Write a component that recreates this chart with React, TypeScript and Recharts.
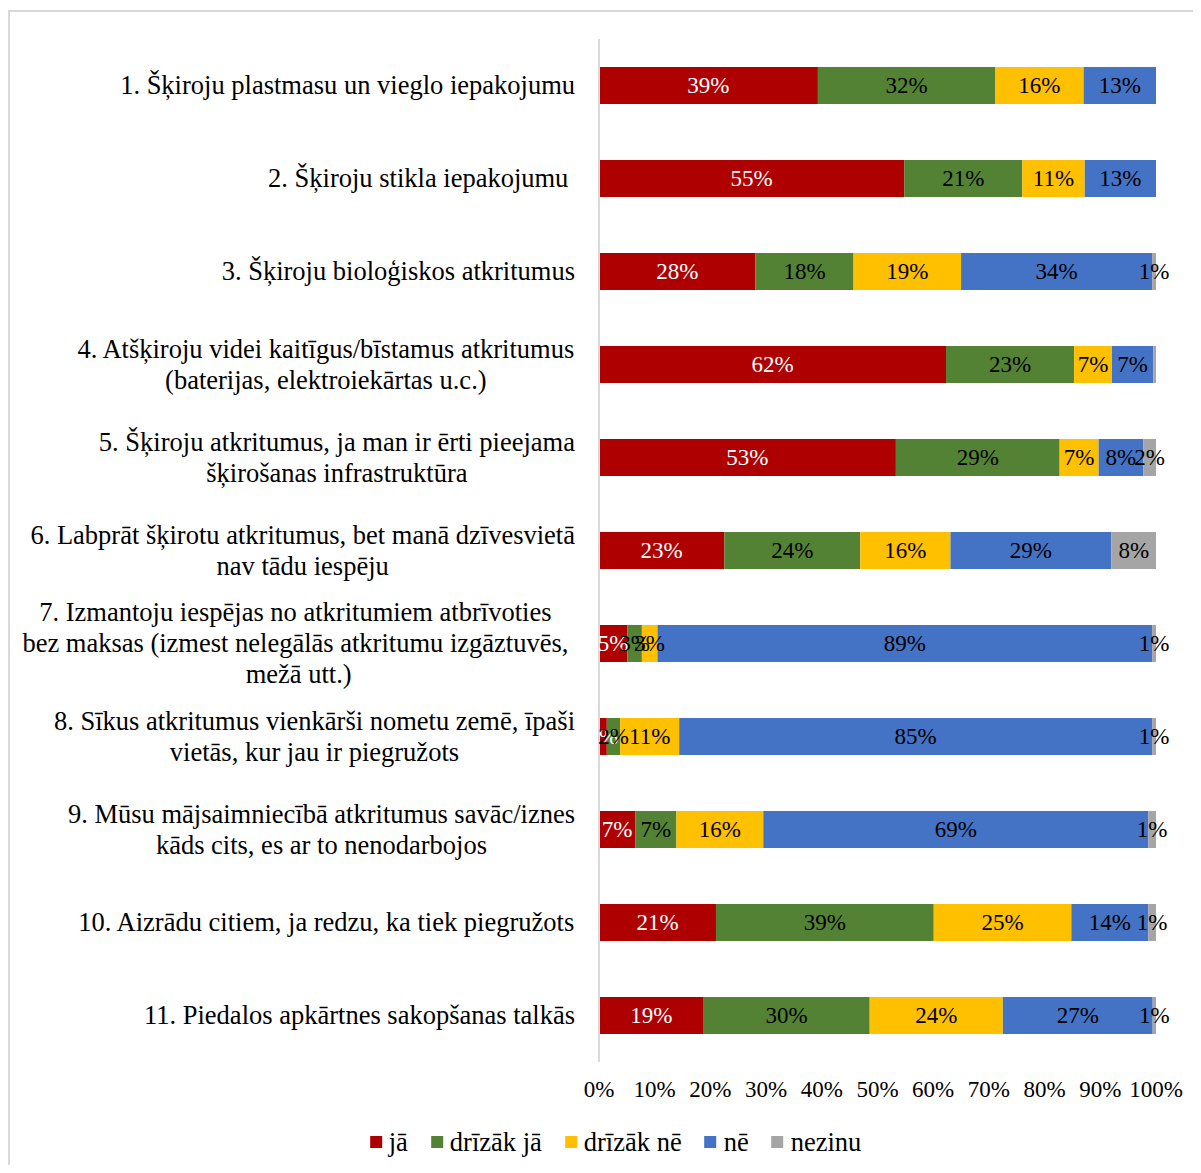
import React from 'react';
import { BarChart, Bar, XAxis, YAxis, LabelList } from 'recharts';

const categoryLines: string[][] = [
  ['1. Šķiroju plastmasu un vieglo iepakojumu'],
  ['2. Šķiroju stikla iepakojumu '],
  ['3. Šķiroju bioloģiskos atkritumus'],
  ['4. Atšķiroju videi kaitīgus/bīstamus atkritumus', '(baterijas, elektroiekārtas u.c.)'],
  ['5. Šķiroju atkritumus, ja man ir ērti pieejama', 'šķirošanas infrastruktūra'],
  ['6. Labprāt šķirotu atkritumus, bet manā dzīvesvietā', 'nav tādu iespēju'],
  ['7. Izmantoju iespējas no atkritumiem atbrīvoties ', 'bez maksas (izmest nelegālās atkritumu izgāztuvēs, ', 'mežā utt.)'],
  ['8. Sīkus atkritumus vienkārši nometu zemē, īpaši', 'vietās, kur jau ir piegružots'],
  ['9. Mūsu mājsaimniecībā atkritumus savāc/iznes', 'kāds cits, es ar to nenodarbojos'],
  ['10. Aizrādu citiem, ja redzu, ka tiek piegružots'],
  ['11. Piedalos apkārtnes sakopšanas talkās'],
];

const seriesNames = ['jā', 'drīzāk jā', 'drīzāk nē', 'nē', 'nezinu'];
const seriesColors = ['#AE0000', '#548235', '#FFC000', '#4472C4', '#A5A5A5'];
const labelColors = ['#FFFFFF', '#000000', '#000000', '#000000', '#000000'];

const ja = [39.3, 54.8, 28.1, 62.3, 53.3, 22.5, 5.1, 1.4, 6.5, 21.0, 18.8];
const drizakJa = [31.8, 21.2, 17.6, 23.0, 29.4, 24.4, 2.6, 2.4, 7.4, 39.1, 29.8];
const drizakNe = [15.9, 11.2, 19.3, 6.8, 7.0, 16.2, 2.8, 10.6, 15.6, 24.7, 23.9];
const ne = [13.0, 12.8, 34.3, 7.4, 8.0, 28.9, 88.8, 84.9, 69.1, 13.8, 26.9];
const nezinu = [0, 0, 0.7, 0.5, 2.3, 8.0, 0.7, 0.7, 1.4, 1.4, 0.6];

const xTicks = [0, 10, 20, 30, 40, 50, 60, 70, 80, 90, 100];

const seriesValues = [ja, drizakJa, drizakNe, ne, nezinu];
const seriesKeys = ['s0', 's1', 's2', 's3', 's4'];

const data = categoryLines.map((lines, i) => {
  const row: any = { name: lines.join(' ') };
  seriesKeys.forEach((k, s) => {
    row[k] = seriesValues[s][i];
  });
  return row;
});

const FONT = '"Liberation Serif", "Times New Roman", serif';
const FS_CAT = 26.5;
const FS_SMALL = 23;

let measureCtx: CanvasRenderingContext2D | null = null;
function measure(t: string): number {
  if (!measureCtx) {
    const c = document.createElement('canvas');
    measureCtx = c.getContext('2d');
  }
  if (!measureCtx) return t.length * FS_CAT * 0.45;
  measureCtx.font = `${FS_CAT}px "Liberation Serif"`;
  return measureCtx.measureText(t).width;
}

const LABEL_RIGHT = 567;
const LINE_H = 31;

const CategoryTick = (props: any) => {
  const { y, payload } = props;
  const lines = categoryLines[payload.index] || [String(payload.value)];
  const widths = lines.map(measure);
  const blockW = Math.max(...widths);
  const cx = LABEL_RIGHT - blockW / 2;
  const n = lines.length;
  return (
    <g>
      {lines.map((ln, i) => (
        <text
          key={i}
          x={cx}
          y={y + (i - (n - 1) / 2) * LINE_H + 8.8}
          textAnchor="middle"
          fontFamily={FONT}
          fontSize={FS_CAT}
          fill="#000"
          style={{ whiteSpace: 'pre' }}
        >
          {ln}
        </text>
      ))}
    </g>
  );
};

const XTick = (props: any) => {
  const { x, y, payload } = props;
  return (
    <text x={x} y={y + 35} textAnchor="middle" fontFamily={FONT} fontSize={FS_SMALL} fill="#000">
      {`${payload.value}%`}
    </text>
  );
};

const makeLabel = (color: string) => (props: any) => {
  const { x, y, width, height, value } = props;
  if (value == null || value < 0.6) return null;
  return (
    <text
      x={x + width / 2}
      y={y + height / 2 + 7.6}
      textAnchor="middle"
      fontFamily={FONT}
      fontSize={FS_SMALL}
      fill={color}
    >
      {`${Math.round(value)}%`}
    </text>
  );
};

export default function App() {
  return (
    <div style={{ position: 'relative', width: 1185, height: 1157, overflow: 'hidden', background: '#fff' }}>
      <div
        style={{
          position: 'absolute',
          left: 0,
          top: 2,
          width: 2000,
          height: 2000,
          borderLeft: '2px solid #D9D9D9',
          borderTop: '2px solid #D9D9D9',
          boxSizing: 'border-box',
        }}
      />
      <div style={{ position: 'absolute', left: 0, top: 0 }}>
        <BarChart
          width={1185}
          height={1157}
          data={data}
          layout="vertical"
          margin={{ top: 31, right: 37, bottom: 63, left: 0 }}
        >
          <XAxis
            type="number"
            domain={[0, 100]}
            ticks={xTicks}
            interval={0}
            axisLine={false}
            tickLine={false}
            tickSize={0}
            tickMargin={0}
            height={40}
            tick={<XTick />}
          />
          <YAxis
            type="category"
            dataKey="name"
            width={591}
            axisLine={{ stroke: '#D9D9D9', strokeWidth: 2 }}
            tickLine={false}
            tickSize={0}
            tickMargin={0}
            interval={0}
            tick={<CategoryTick />}
          />
          {seriesKeys.map((k, s) => (
            <Bar
              key={k}
              dataKey={k}
              name={seriesNames[s]}
              stackId="a"
              fill={seriesColors[s]}
              barSize={37}
              isAnimationActive={false}
            >
              <LabelList dataKey={k} content={makeLabel(labelColors[s])} />
            </Bar>
          ))}
        </BarChart>
      </div>
      <div
        style={{
          position: 'absolute',
          left: 607.5,
          top: 1134,
          transform: 'translate(-50%, -50%)',
          display: 'flex',
          alignItems: 'center',
          whiteSpace: 'nowrap',
          fontFamily: FONT,
          fontSize: FS_CAT,
          color: '#000',
        }}
      >
        {seriesNames.map((nm, s) => (
          <div key={nm} style={{ display: 'flex', alignItems: 'center', marginRight: s < seriesNames.length - 1 ? 23 : 0 }}>
            <span style={{ display: 'inline-block', width: 12, height: 12, background: seriesColors[s], marginRight: 7 }} />
            <span style={{ lineHeight: '30px' }}>{nm}</span>
          </div>
        ))}
      </div>
    </div>
  );
}
